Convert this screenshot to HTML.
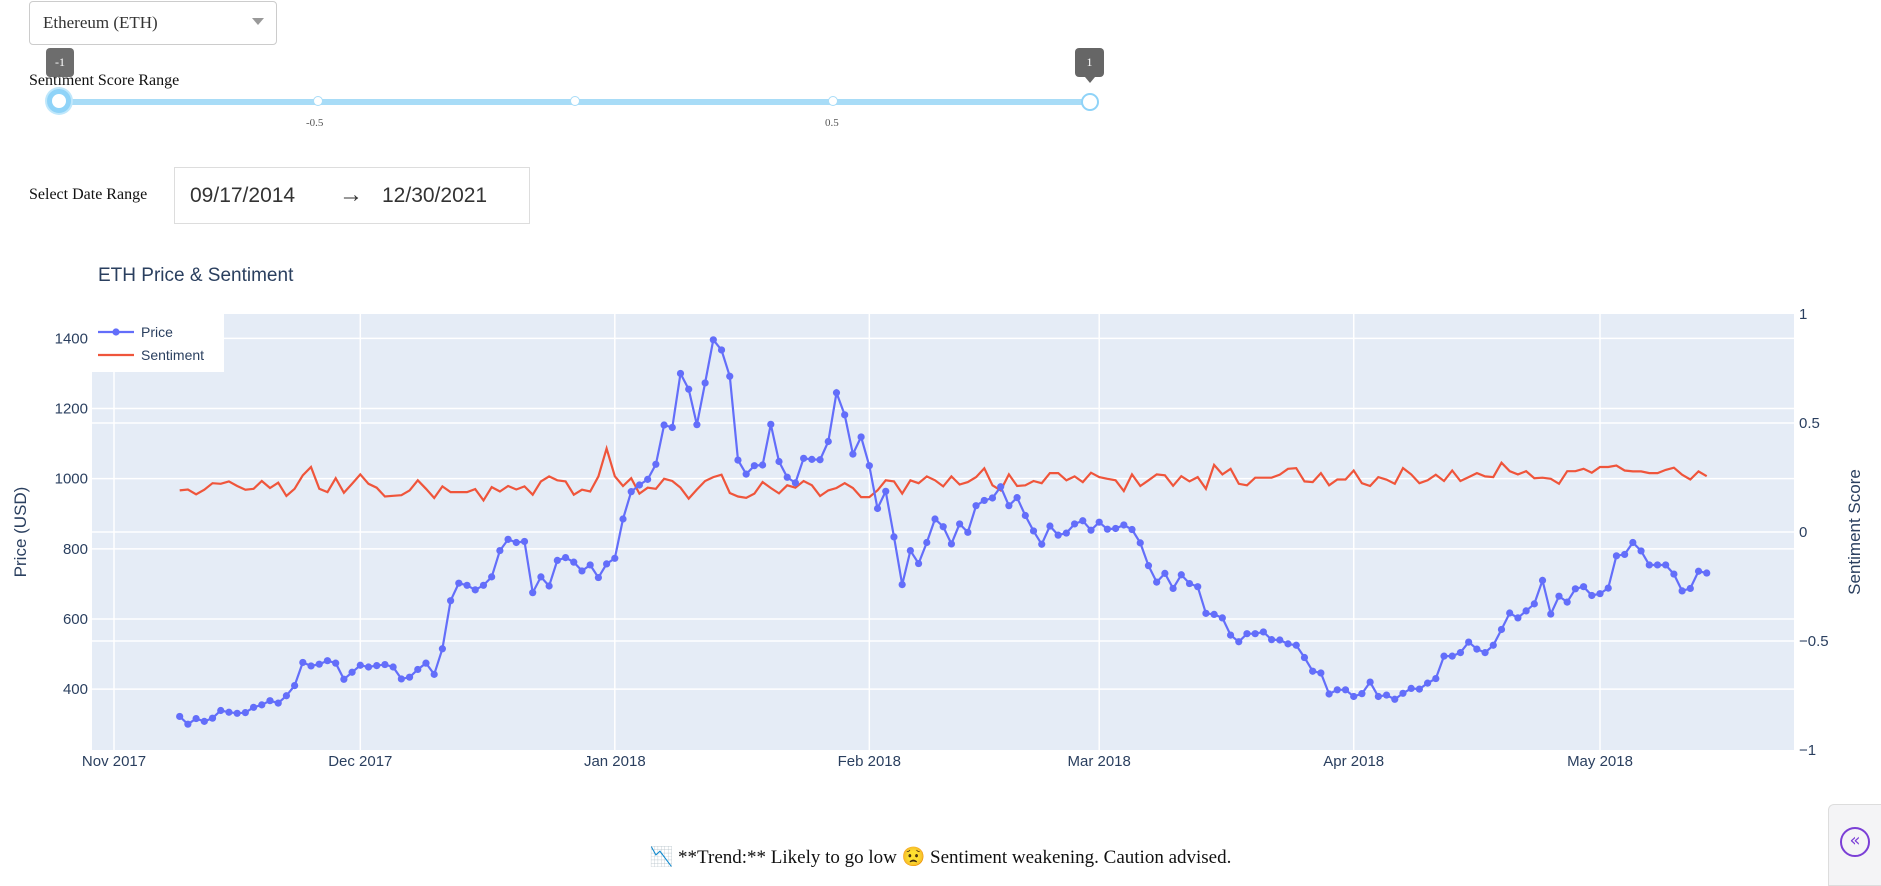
<!DOCTYPE html>
<html><head><meta charset="utf-8">
<style>
body{margin:0;width:1881px;height:883px;background:#fff;position:relative;overflow:hidden;font-family:"Liberation Serif",serif}
.abs{position:absolute}
</style></head><body>
<div class="abs" style="left:29px;top:1px;width:248px;height:44px;border:1px solid #ccc;border-radius:4px;box-sizing:border-box">
  <span class="abs" style="left:13px;top:11px;font-size:17px;color:#333">Ethereum (ETH)</span>
  <span class="abs" style="left:222px;top:16px;width:0;height:0;border-left:6px solid transparent;border-right:6px solid transparent;border-top:7px solid #999"></span>
</div>
<div class="abs" style="left:29px;top:72px;font-size:16px;color:#111">Sentiment Score Range</div>
<div class="abs" style="left:46px;top:48px;width:28px;height:29px;background:#666;border-radius:4px;color:#fff;font-size:12px;text-align:center;line-height:29px;opacity:.95">-1</div>
<div class="abs" style="left:1075px;top:48px;width:29px;height:29px;background:#666;border-radius:4px;color:#fff;font-size:12px;text-align:center;line-height:29px">1</div>
<div class="abs" style="left:1085px;top:77px;width:0;height:0;border-left:5px solid transparent;border-right:5px solid transparent;border-top:6px solid #666"></div>
<div class="abs" style="left:60px;top:99px;width:1030px;height:6px;background:#a8dcf7;border-radius:3px"></div>
<div class="abs" style="left:313px;top:96px;width:8px;height:8px;border:1.5px solid #a8dcf7;background:#fff;border-radius:50%"></div>
<div class="abs" style="left:570px;top:96px;width:8px;height:8px;border:1.5px solid #a8dcf7;background:#fff;border-radius:50%"></div>
<div class="abs" style="left:828px;top:96px;width:8px;height:8px;border:1.5px solid #a8dcf7;background:#fff;border-radius:50%"></div>
<div class="abs" style="left:47px;top:89px;width:14px;height:14px;border:5px solid #8fd3f8;background:#fff;border-radius:50%;box-shadow:0 0 0 2px #bfe7fb"></div>
<div class="abs" style="left:1081px;top:93px;width:14px;height:14px;border:2px solid #8fd3f8;background:#fff;border-radius:50%"></div>
<div class="abs" style="left:306px;top:117px;font-size:11px;color:#555">-0.5</div>
<div class="abs" style="left:825px;top:117px;font-size:11px;color:#555">0.5</div>
<div class="abs" style="left:29px;top:186px;font-size:16px;color:#111">Select Date Range</div>
<div class="abs" style="left:174px;top:167px;width:356px;height:57px;border:1px solid #ddd;box-sizing:border-box;font-family:'Liberation Sans',sans-serif;font-size:21px;color:#333">
  <span class="abs" style="left:15px;top:16px">09/17/2014</span>
  <span class="abs" style="left:164px;top:13px;font-size:24px">→</span>
  <span class="abs" style="left:207px;top:16px">12/30/2021</span>
</div>
<svg class="abs" style="left:0;top:0" width="1881" height="883" id="chart" font-family="Liberation Sans, sans-serif"></svg>
<div class="abs" style="left:0;width:1881px;top:845px;text-align:center;font-size:19px;color:#111">📉 **Trend:** Likely to go low 😟 Sentiment weakening. Caution advised.</div>
<div class="abs" style="left:1828px;top:804px;width:60px;height:80px;background:#f4f4f6;border:1px solid #ddd;border-radius:6px 0 0 0">
  <div class="abs" style="left:11px;top:22px;width:26px;height:26px;border:2px solid #7b3fd6;border-radius:50%;color:#7b3fd6;font-size:18px;text-align:center;line-height:24px;font-family:'DejaVu Sans',sans-serif">«</div>
</div>
<script>
const startDate = "2017-11-09";
const price = [322,300,316,308,317,339,334,331,333,348,355,367,360,381,410,476,466,471,481,474,428,448,468,463,467,470,463,429,434,456,474,442,515,652,702,696,683,696,720,795,827,818,821,675,720,694,767,775,762,737,754,718,757,773,885,963,982,998,1041,1153,1146,1300,1255,1154,1273,1396,1367,1292,1053,1013,1037,1039,1155,1049,1004,988,1058,1055,1054,1106,1245,1182,1070,1119,1037,915,964,834,698,795,758,818,885,863,814,871,847,923,938,945,977,923,946,895,851,813,865,839,845,871,880,853,876,856,858,868,855,817,752,705,730,687,726,701,692,616,613,603,554,535,558,558,563,541,540,529,525,490,451,446,386,398,398,379,387,420,379,383,371,388,402,400,417,430,494,494,504,534,514,504,525,570,617,603,623,643,710,614,665,648,686,692,667,672,688,780,784,818,794,754,754,754,728,680,687,736,731];
const sentiment = [0.191,0.195,0.173,0.194,0.224,0.221,0.232,0.211,0.194,0.198,0.234,0.202,0.226,0.165,0.198,0.260,0.298,0.198,0.183,0.247,0.180,0.221,0.264,0.221,0.203,0.163,0.166,0.169,0.191,0.237,0.198,0.156,0.209,0.183,0.183,0.183,0.197,0.145,0.206,0.186,0.211,0.195,0.209,0.171,0.232,0.255,0.237,0.232,0.171,0.194,0.186,0.255,0.383,0.256,0.211,0.247,0.176,0.203,0.198,0.244,0.234,0.203,0.153,0.195,0.234,0.252,0.263,0.179,0.163,0.157,0.176,0.229,0.202,0.177,0.214,0.203,0.234,0.214,0.165,0.191,0.202,0.224,0.202,0.160,0.160,0.191,0.237,0.232,0.176,0.237,0.224,0.255,0.237,0.209,0.255,0.218,0.229,0.252,0.292,0.214,0.191,0.264,0.211,0.214,0.234,0.224,0.270,0.270,0.237,0.255,0.229,0.272,0.252,0.244,0.237,0.188,0.264,0.211,0.237,0.264,0.260,0.212,0.256,0.232,0.252,0.198,0.308,0.264,0.290,0.221,0.214,0.249,0.249,0.249,0.263,0.290,0.293,0.232,0.229,0.270,0.214,0.241,0.241,0.282,0.224,0.211,0.252,0.240,0.221,0.293,0.264,0.224,0.237,0.263,0.234,0.282,0.234,0.252,0.270,0.255,0.252,0.318,0.279,0.264,0.279,0.247,0.249,0.244,0.221,0.279,0.279,0.290,0.272,0.298,0.298,0.305,0.282,0.278,0.278,0.270,0.270,0.285,0.295,0.263,0.241,0.278,0.256];
const priceTicks = [400,600,800,1000,1200,1400];
const sentTicks = [-1,-0.5,0,0.5,1];
const sentTickLabels = ["−1","−0.5","0","0.5","1"];
const xTickDates = ["2017-11-01","2017-12-01","2018-01-01","2018-02-01","2018-03-01","2018-04-01","2018-05-01"];
const xTickLabels = ["Nov 2017","Dec 2017","Jan 2018","Feb 2018","Mar 2018","Apr 2018","May 2018"];

const svg=document.getElementById('chart');
const NS='http://www.w3.org/2000/svg';
const L=92,R=1794,T=314,B=750;
const DAY=86400000, d0=Date.UTC(2017,10,1);
const xPx=t=>114+(t-d0)/DAY*8.21;
const yP=v=>338.4+(1400-v)*0.3507;
const yS=v=>532-v*218;
function el(tag,attrs,parent){const e=document.createElementNS(NS,tag);for(const k in attrs)e.setAttribute(k,attrs[k]);(parent||svg).appendChild(e);return e;}
function dt(s){const p=s.split('-');return Date.UTC(+p[0],+p[1]-1,+p[2]);}

const bg=el('rect',{x:L,y:T,width:R-L,height:B-T,fill:'#e5ecf6'});


sentTicks.forEach((v,i)=>{const y=yS(v);
  if(v>-1&&v<1){const g=el('line',{x1:L,x2:R,y1:y,y2:y,stroke:'#fff','stroke-width':1.5});
  
  }
  const t=el('text',{x:R+5,y:y+5,'font-size':15,fill:'#2a3f5f'});t.textContent=sentTickLabels[i];
  
  
});
priceTicks.forEach(v=>{const y=yP(v);
  const g=el('line',{x1:L,x2:R,y1:y,y2:y,stroke:'#fff','stroke-width':1.5});
  
  
  const t=el('text',{x:L-4,y:y+5,'font-size':15,fill:'#2a3f5f','text-anchor':'end'});t.textContent=v;
  
  
});
xTickDates.forEach((d,i)=>{const x=xPx(dt(d));
  const g=el('line',{x1:x,x2:x,y1:T,y2:B,stroke:'#fff','stroke-width':1.5});
  
  
  const t=el('text',{x:x,y:766,'font-size':15,fill:'#2a3f5f','text-anchor':'middle'});t.textContent=xTickLabels[i];
  
  
});
const s0=dt(startDate);
const sp=sentiment.map((v,i)=>xPx(s0+i*DAY).toFixed(1)+','+yS(v).toFixed(1)).join(' ');
const sl=el('polyline',{points:sp,fill:'none',stroke:'#ef553b','stroke-width':2.2});


const pp=price.map((v,i)=>xPx(s0+i*DAY).toFixed(1)+','+yP(v).toFixed(1)).join(' ');
const pl=el('polyline',{points:pp,fill:'none',stroke:'#636efa','stroke-width':2.2});


price.forEach((v,i)=>{const c=el('circle',{cx:xPx(s0+i*DAY),cy:yP(v),r:3.6,fill:'#636efa'});
  
  
});
const title=el('text',{x:98,y:281,'font-size':19,fill:'#2a3f5f'});title.textContent='ETH Price & Sentiment';


const yl=el('text',{x:0,y:0,'font-size':17,fill:'#2a3f5f','text-anchor':'middle',transform:'translate(26,532) rotate(-90)'});yl.textContent='Price (USD)';


const yr=el('text',{x:0,y:0,'font-size':17,fill:'#2a3f5f','text-anchor':'middle',transform:'translate(1860,532) rotate(-90)'});yr.textContent='Sentiment Score';


const lg=el('g',{});


el('rect',{x:92,y:314,width:132,height:58,fill:'#fff'},lg);
const e1=el('g',{},lg);


el('line',{x1:98,x2:134,y1:332,y2:332,stroke:'#636efa','stroke-width':2.2},e1);
el('circle',{cx:116,cy:332,r:3.6,fill:'#636efa'},e1);
const t1=el('text',{x:141,y:337,'font-size':14,fill:'#2a3f5f'},e1);t1.textContent='Price';
const e2=el('g',{},lg);


el('line',{x1:98,x2:134,y1:355,y2:355,stroke:'#ef553b','stroke-width':2.2},e2);
const t2=el('text',{x:141,y:360,'font-size':14,fill:'#2a3f5f'},e2);t2.textContent='Sentiment';
</script>
</body></html>
